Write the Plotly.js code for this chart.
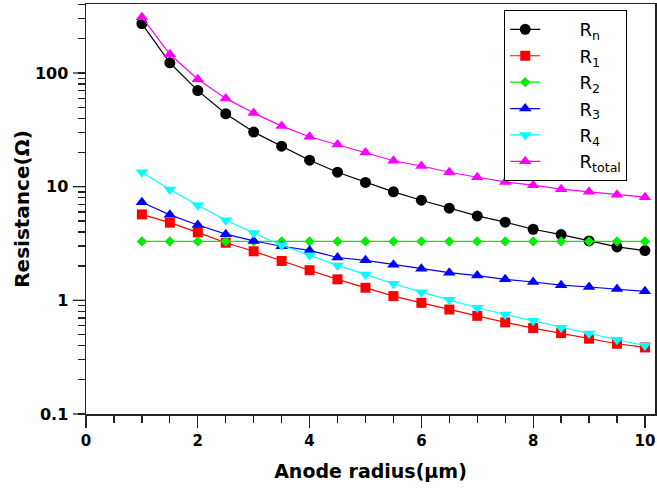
<!DOCTYPE html>
<html>
<head>
<meta charset="utf-8">
<script src="https://cdn.plot.ly/plotly-3.0.1.min.js"></script>
<style>
  html, body { margin: 0; padding: 0; background: #fff; }
  #chart { width: 657px; height: 490px; }
</style>
</head>
<body>
<div id="chart"></div>
<script>
// Anode radius (µm)
const radius = [1, 1.5, 2, 2.5, 3, 3.5, 4, 4.5, 5, 5.5, 6, 6.5, 7, 7.5, 8, 8.5, 9, 9.5, 10];

// Resistance components (Ω)
const Rn     = [272, 123, 70, 43.8, 30.2, 22.7, 17.1, 13.4, 10.9, 9.0, 7.6, 6.47, 5.53, 4.87, 4.22, 3.79, 3.33, 2.95, 2.74];
const R1     = [5.7, 4.82, 3.96, 3.21, 2.70, 2.22, 1.84, 1.53, 1.29, 1.09, 0.95, 0.83, 0.73, 0.64, 0.57, 0.515, 0.46, 0.415, 0.385];
const R2     = [3.3, 3.3, 3.3, 3.3, 3.3, 3.3, 3.3, 3.3, 3.3, 3.3, 3.3, 3.3, 3.3, 3.3, 3.3, 3.3, 3.3, 3.3, 3.3];
const R3     = [7.3, 5.65, 4.6, 3.82, 3.33, 2.99, 2.75, 2.38, 2.25, 2.06, 1.9, 1.75, 1.65, 1.53, 1.45, 1.36, 1.31, 1.26, 1.2];
const R4     = [13.4, 9.45, 6.85, 5.07, 3.92, 3.05, 2.49, 2.03, 1.69, 1.40, 1.18, 1.01, 0.86, 0.75, 0.66, 0.574, 0.51, 0.45, 0.40];
const Rtotal = [310, 146, 88, 59.8, 44.4, 34.1, 27.5, 23.5, 20.0, 16.9, 15.2, 13.4, 12.1, 11.0, 10.3, 9.5, 9.0, 8.5, 8.08];

const seriesNames = ['R<sub>n</sub>', 'R<sub>1</sub>', 'R<sub>2</sub>', 'R<sub>3</sub>', 'R<sub>4</sub>', 'R<sub>total</sub>'];
const seriesData = [Rn, R1, R2, R3, R4, Rtotal];
const colors  = ['#000000', '#ff0000', '#00ee00', '#0000ff', '#00ffff', '#ff00ff'];
const symbols = ['circle', 'square', 'diamond', 'triangle-up', 'triangle-down', 'triangle-up'];
const sizes   = [11, 10, 8, 11, 11, 11];

// Major decades and the 2..9 minor positions of the log axis
const yMajor = [0.1, 1, 10, 100];
const yMinor = [0.2, 0.3, 0.4, 0.5, 0.6, 0.7, 0.8, 0.9,
                2, 3, 4, 5, 6, 7, 8, 9,
                20, 30, 40, 50, 60, 70, 80, 90,
                200, 300, 400];

// All y tick positions; only the decades carry a label
const yTickVals = yMajor.concat(yMinor).sort((a, b) => a - b);
const yTickText = yTickVals.map(v => (yMajor.includes(v) ? String(v) : ''));

// Spacing before the legend labels keeps them clear of the symbols
const padL = '\u00a0\u00a0\u00a0\u00a0\u00a0\u00a0';

const traces = seriesData.map((ys, i) => ({
  x: radius,
  y: ys,
  name: padL + seriesNames[i],
  type: 'scatter',
  mode: 'lines+markers',
  line: { color: colors[i], width: 1.2 },
  marker: { color: colors[i], symbol: symbols[i], size: sizes[i] }
}));

const fam = 'DejaVu Sans, Verdana, sans-serif';
const tickFont = { family: fam, size: 15, color: '#000', weight: 'bold' };
const yRange = [-1, 2.607];   // log10 range of the y axis

const margin = { l: 86, r: 2, t: 4, b: 76 };
const plotWidth = 657 - margin.l - margin.r;
const minorLen = 7;
const majorLen = 13;

// Fraction of the plot height at which a value sits on the log y axis
const yFrac = v => (Math.log10(v) - yRange[0]) / (yRange[1] - yRange[0]);

// Longer outward ticks at the labelled decades
const majorTicks = yMajor.map(v => ({
  type: 'line',
  xref: 'paper', yref: 'paper',
  x0: -majorLen / plotWidth, x1: 0,
  y0: yFrac(v), y1: yFrac(v),
  line: { color: '#222', width: 1.3 },
  layer: 'above'
}));

const layout = {
  width: 657,
  height: 490,
  margin: margin,
  paper_bgcolor: '#fff',
  plot_bgcolor: '#fff',
  showlegend: true,
  legend: {
    x: 0.735, y: 0.985, xanchor: 'left', yanchor: 'top',
    bgcolor: '#fff', bordercolor: '#000', borderwidth: 1,
    font: { family: fam, size: 18, color: '#000' },
    tracegroupgap: 0
  },
  shapes: majorTicks,
  xaxis: {
    range: [0, 10.18],
    showgrid: false, zeroline: false,
    showline: true, linecolor: '#222', linewidth: 1.5, mirror: true,
    ticks: 'outside', ticklen: 12, tickwidth: 1.3, tickcolor: '#222',
    dtick: 2, tick0: 0,
    tickfont: tickFont,
    minor: { dtick: 0.5, ticks: 'outside', ticklen: minorLen, tickwidth: 1.3, tickcolor: '#222', showgrid: false },
    title: { text: 'Anode radius(μm)', font: { family: fam, size: 19, color: '#000', weight: 'bold' }, standoff: 16 }
  },
  yaxis: {
    type: 'log',
    range: yRange,
    showgrid: false, zeroline: false,
    showline: true, linecolor: '#222', linewidth: 1.5, mirror: true,
    ticks: 'outside', ticklen: minorLen, tickwidth: 1.3, tickcolor: '#222',
    ticklabelstandoff: 6,
    tickmode: 'array',
    tickvals: yTickVals,
    ticktext: yTickText,
    tickfont: Object.assign({}, tickFont, { size: 16 }),
    title: { text: 'Resistance(Ω)', font: { family: fam, size: 20, color: '#000', weight: 'bold' }, standoff: 0 }
  }
};

Plotly.newPlot('chart', traces, layout, { displayModeBar: false, staticPlot: true });
</script>
</body>
</html>
